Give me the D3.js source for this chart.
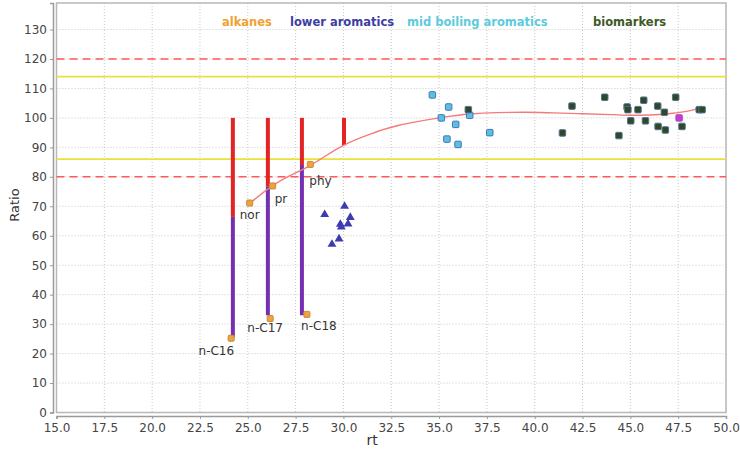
<!DOCTYPE html>
<html><head><meta charset="utf-8">
<script src="https://cdn.jsdelivr.net/npm/d3@7"></script>
<style>body{margin:0;background:#fff}svg{display:block}</style>
</head><body>
<svg id="c" width="740" height="457"></svg>
<script>
// ---------- data ----------
const xTicks = [15.0,17.5,20.0,22.5,25.0,27.5,30.0,32.5,35.0,37.5,40.0,42.5,45.0,47.5,50.0];
const yTicks = [0,10,20,30,40,50,60,70,80,90,100,110,120,130];
const redLimits = [80,120];
const yellowLimits = [86,114];

const legendNames = ["alkanes","lower aromatics","mid boiling aromatics","biomarkers"];

// vertical bars: red from top to mid, purple from mid to bottom
const barRt     = [24.22, 26.05, 27.83, 30.03];
const barTop    = [100, 100, 100, 100];
const barMid    = [66.4, 76.8, 84.0, 90.7];
const barBottom = [25.5, 33.0, 33.0, 90.7];

// alkanes (labelled)
const alkNames = ["nor","pr","phy","n-C16","n-C17","n-C18"];
const alkRt    = [25.10, 26.30, 28.27, 24.13, 26.17, 28.09];
const alkRatio = [71.1, 76.9, 84.2, 25.2, 31.9, 33.3];

// fitted curve
const curveRt    = [25.1, 26.3, 28.3, 30.0, 31.4, 32.9, 33.5, 35.1, 36.6, 38.0, 39.5, 41.0, 42.5, 44.0, 45.0, 46.0, 47.1, 48.0, 48.7];
const curveRatio = [71.0, 77.0, 84.0, 90.7, 94.5, 97.5, 98.3, 100.1, 101.3, 101.8, 101.9, 101.7, 101.4, 101.1, 100.9, 101.0, 101.5, 102.3, 103.5];

// lower aromatics
const lowRt    = [29.02, 30.06, 30.36, 30.24, 29.84, 29.89, 29.77, 29.40];
const lowRatio = [67.2, 70.0, 66.2, 64.0, 63.9, 63.0, 58.9, 57.1];

// mid boiling aromatics
const midRt    = [34.65, 35.50, 35.12, 35.87, 35.41, 35.99, 36.60, 37.65];
const midRatio = [107.8, 103.7, 100.0, 97.8, 92.8, 91.0, 100.9, 95.0];

// biomarkers
const bioRt    = [36.53, 41.45, 41.95, 43.66, 44.40, 44.83, 44.87, 45.40, 45.70, 45.02, 45.79, 46.43, 46.78, 46.45, 46.83, 47.37, 47.70, 48.60, 48.75];
const bioRatio = [102.8, 94.9, 104.0, 107.0, 94.0, 103.7, 102.8, 102.8, 106.0, 99.0, 99.0, 104.0, 101.9, 97.1, 95.9, 107.0, 97.1, 102.8, 102.8];

// outlier (magenta)
const outRt = [47.55];
const outRatio = [100.0];

// ---------- drawing ----------
const svg = d3.select("#c");
const L = 56.5, R = 726, T = 3, B = 412.5;
const x = d3.scaleLinear().domain([15, 50]).range([L, R]);
const y = d3.scaleLinear().domain([0, 139]).range([B, T]);
const font = "DejaVu Sans, sans-serif";

svg.append("rect").attr("x", L).attr("y", T).attr("width", R - L).attr("height", B - T)
  .attr("fill", "#fff");

// grid
const grid = svg.append("g");
xTicks.forEach(t => grid.append("line").attr("x1", x(t)).attr("x2", x(t)).attr("y1", T).attr("y2", B)
  .attr("stroke", "#c8c8c8").attr("stroke-width", 1).attr("stroke-dasharray", "1,2"));
yTicks.forEach(t => grid.append("line").attr("x1", L).attr("x2", R).attr("y1", y(t)).attr("y2", y(t))
  .attr("stroke", "#c8c8c8").attr("stroke-width", 1).attr("stroke-dasharray", "1,2"));

// plot border
svg.append("rect").attr("x", L).attr("y", T).attr("width", R - L).attr("height", B - T)
  .attr("fill", "none").attr("stroke", "#b8b8b8").attr("stroke-width", 1.5);

// limit lines
yellowLimits.forEach(v => svg.append("line").attr("x1", L).attr("x2", R).attr("y1", y(v)).attr("y2", y(v))
  .attr("stroke", "#e8e23a").attr("stroke-width", 1.6));
redLimits.forEach(v => svg.append("line").attr("x1", L).attr("x2", R).attr("y1", y(v)).attr("y2", y(v))
  .attr("stroke", "#ff5a5a").attr("stroke-width", 1.6).attr("stroke-dasharray", "8,5"));

// axes
const xAxis = d3.axisBottom(x).tickValues(xTicks).tickFormat(d3.format(".1f")).tickSize(3).tickPadding(4);
const gx = svg.append("g").attr("transform", `translate(0,${B + 3.5})`).call(xAxis);
const yAxis = d3.axisLeft(y).tickValues(yTicks).tickFormat(d3.format("d")).tickSize(3).tickPadding(3);
const gy = svg.append("g").attr("transform", `translate(${L - 3.5},0)`).call(yAxis);
[gx, gy].forEach(g => {
  g.select(".domain").attr("stroke", "#9a9a9a").attr("stroke-width", 1.5);
  g.selectAll(".tick line").attr("stroke", "#9a9a9a");
  g.selectAll(".tick text").attr("fill", "#444").style("font-family", font).style("font-size", "12px");
});

// axis titles
svg.append("text").attr("x", 372).attr("y", 445).attr("text-anchor", "middle")
  .style("font-family", font).style("font-size", "14px").attr("fill", "#333").text("rt");
svg.append("text").attr("transform", "translate(19,205) rotate(-90)").attr("text-anchor", "middle")
  .style("font-family", font).style("font-size", "13px").attr("fill", "#333").text("Ratio");

// bars
const bars = svg.append("g");
barRt.forEach((r, i) => {
  bars.append("line").attr("x1", x(r)).attr("x2", x(r)).attr("y1", y(barTop[i])).attr("y2", y(barMid[i]))
    .attr("stroke", "#e22424").attr("stroke-width", 4);
  if (barBottom[i] < barMid[i])
    bars.append("line").attr("x1", x(r)).attr("x2", x(r)).attr("y1", y(barMid[i])).attr("y2", y(barBottom[i]))
      .attr("stroke", "#7430b0").attr("stroke-width", 4);
});

// curve
const curve = curveRt.map((r, i) => [r, curveRatio[i]]);
svg.append("path").datum(curve)
  .attr("d", d3.line().x(d => x(d[0])).y(d => y(d[1])).curve(d3.curveMonotoneX))
  .attr("fill", "none").attr("stroke", "#f47a7a").attr("stroke-width", 1.4);

// markers
function squares(rts, vals, fill, stroke, size) {
  const g = svg.append("g");
  rts.forEach((r, i) => g.append("rect")
    .attr("x", x(r) - size / 2).attr("y", y(vals[i]) - size / 2)
    .attr("width", size).attr("height", size).attr("rx", 1)
    .attr("fill", fill).attr("stroke", stroke).attr("stroke-width", 1));
}
squares(midRt, midRatio, "#5ebde0", "#3b78b8", 6.5);
squares(bioRt, bioRatio, "#2e4a22", "#56709a", 6.5);
squares(outRt, outRatio, "#c040c8", "#b050d0", 6.5);

// lower aromatics triangles
const tri = d3.symbol().type(d3.symbolTriangle).size(34);
lowRt.forEach((r, i) => svg.append("path").attr("d", tri)
  .attr("transform", `translate(${x(r)},${y(lowRatio[i])})`).attr("fill", "#3c3cb0"));

// alkanes
squares(alkRt, alkRatio, "#eca443", "#c98a30", 6);
const labelPos = {"nor": [-10, 16, "start"], "pr": [2, 17, "start"], "phy": [-1, 21, "start"],
  "n-C16": [3, 17, "end"], "n-C17": [-5, 13, "middle"], "n-C18": [12, 16, "middle"]};
alkNames.forEach((n, i) => {
  const p = labelPos[n];
  svg.append("text").attr("x", x(alkRt[i]) + p[0]).attr("y", y(alkRatio[i]) + p[1])
    .attr("text-anchor", p[2]).style("font-family", font).style("font-size", "12px")
    .attr("fill", "#333").text(n);
});

// legend
const legendColors = ["#f0a12e", "#3d3da6", "#5ccbdc", "#3e5a28"];
const legendX = [222, 290, 407, 593];
legendNames.forEach((n, i) => svg.append("text").attr("x", legendX[i]).attr("y", 26)
  .style("font-family", font).style("font-size", "11.5px").style("font-weight", "bold")
  .attr("fill", legendColors[i]).text(n));
</script>
</body></html>
